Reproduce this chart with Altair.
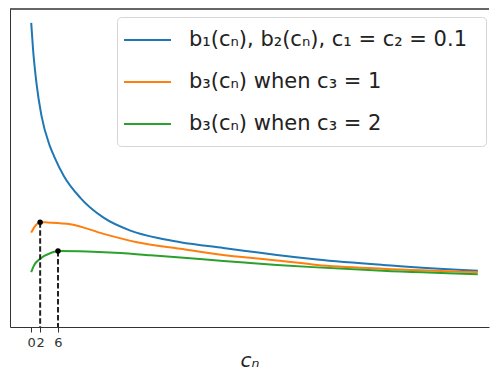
import altair as alt
import pandas as pd

# --- data ---
labels = ["b₁(cₙ),  b₂(cₙ), c₁ = c₂ = 0.1", "b₃(cₙ) when c₃ = 1", "b₃(cₙ) when c₃ = 2"]
colors = ["#1f77b4", "#ff7f0e", "#2ca02c"]

x_blue = [0, 0.4, 1.16, 2.28, 4.1, 5.1, 7.3, 11, 16.2, 22.2, 28.9, 33.4, 43, 49, 55, 64, 78.7, 100]
y_blue = [3.06, 2.80, 2.46, 2.13, 1.83, 1.72, 1.52, 1.30, 1.10, 0.97, 0.89, 0.853, 0.795, 0.76, 0.725, 0.68, 0.625, 0.565]

x_orange = [0, 0.63, 2, 3.6, 8.8, 16.2, 23.7, 33.4, 43, 49, 55, 64, 78.7, 100]
y_orange = [0.95, 1.00, 1.055, 1.052, 1.035, 0.937, 0.853, 0.787, 0.725, 0.697, 0.67, 0.625, 0.587, 0.553]

x_green = [0, 0.63, 2.1, 4.35, 6, 12.5, 20, 26.7, 33.4, 43, 49, 55, 64, 78.7, 100]
y_green = [0.553, 0.62, 0.69, 0.745, 0.765, 0.76, 0.745, 0.722, 0.70, 0.665, 0.645, 0.625, 0.60, 0.565, 0.53]

peak_x = [2, 6]
peak_y = [1.055, 0.765]

tick_values = [0, 2, 6]

rows = []
for lab, xs, ys in zip(labels, [x_blue, x_orange, x_green], [y_blue, y_orange, y_green]):
    for xv, yv in zip(xs, ys):
        rows.append({"c": xv, "b": yv, "series": lab})
df = pd.DataFrame(rows)
peaks = pd.DataFrame({"c": peak_x, "b": peak_y})

X0, X1 = -4.75, 102.5
xscale = alt.Scale(domain=[X0, X1], nice=False, zero=False)
yscale = alt.Scale(domain=[0, 3.2], nice=False, zero=False)

lines = alt.Chart(df).mark_line(strokeWidth=2, interpolate="monotone").encode(
    x=alt.X("c:Q", scale=xscale, axis=alt.Axis(
        values=tick_values, title="cₙ", grid=False, format="d",
        domainColor="#333", tickColor="#333", tickSize=5, labelFontSize=13,
        labelFont="DejaVu Sans", labelColor="#333", labelPadding=4,
        titleFont="DejaVu Sans", titleFontSize=20, titleFontStyle="italic",
        titleFontWeight="normal", titleColor="#222", titlePadding=1)),
    y=alt.Y("b:Q", scale=yscale, axis=alt.Axis(
        labels=False, ticks=False, title=None, grid=False, domainColor="#333")),
    color=alt.Color("series:N", scale=alt.Scale(domain=labels, range=colors),
                    legend=alt.Legend(
                        title=None, orient="none", legendX=107, legendY=8,
                        symbolType="M-2.35,0H2.35", symbolSize=400, symbolStrokeWidth=2,
                        symbolOffset=7.5,
                        labelFontSize=21, labelFont="DejaVu Sans", labelColor="#222",
                        labelOffset=30.5, rowPadding=21, padding=12, labelLimit=450,
                        strokeColor="#d6d6d6", fillColor="rgba(255,255,255,0.8)",
                        cornerRadius=4)),
)

rules = alt.Chart(peaks).mark_rule(strokeDash=[5.5, 2.5], strokeWidth=2, color="#222").encode(
    x=alt.X("c:Q", scale=xscale), y=alt.Y("b:Q", scale=yscale), y2=alt.datum(0)
)
dots = alt.Chart(peaks).mark_circle(size=30, color="black", opacity=1).encode(
    x=alt.X("c:Q", scale=xscale), y=alt.Y("b:Q", scale=yscale)
)
top = alt.Chart(peaks).mark_rule(color="#333", strokeWidth=1).encode(
    x=alt.datum(X0), x2=alt.datum(X1), y=alt.value(0)
)

chart = alt.layer(lines, rules, dots, top).properties(
    width=482, height=362,
    padding={"left": 1, "top": 0, "right": 0, "bottom": 0},
    autosize=alt.AutoSizeParams(type="fit", contains="padding"),
).configure_view(stroke="transparent")

chart.save("out.html", embed_options={"renderer": "svg", "actions": False})
